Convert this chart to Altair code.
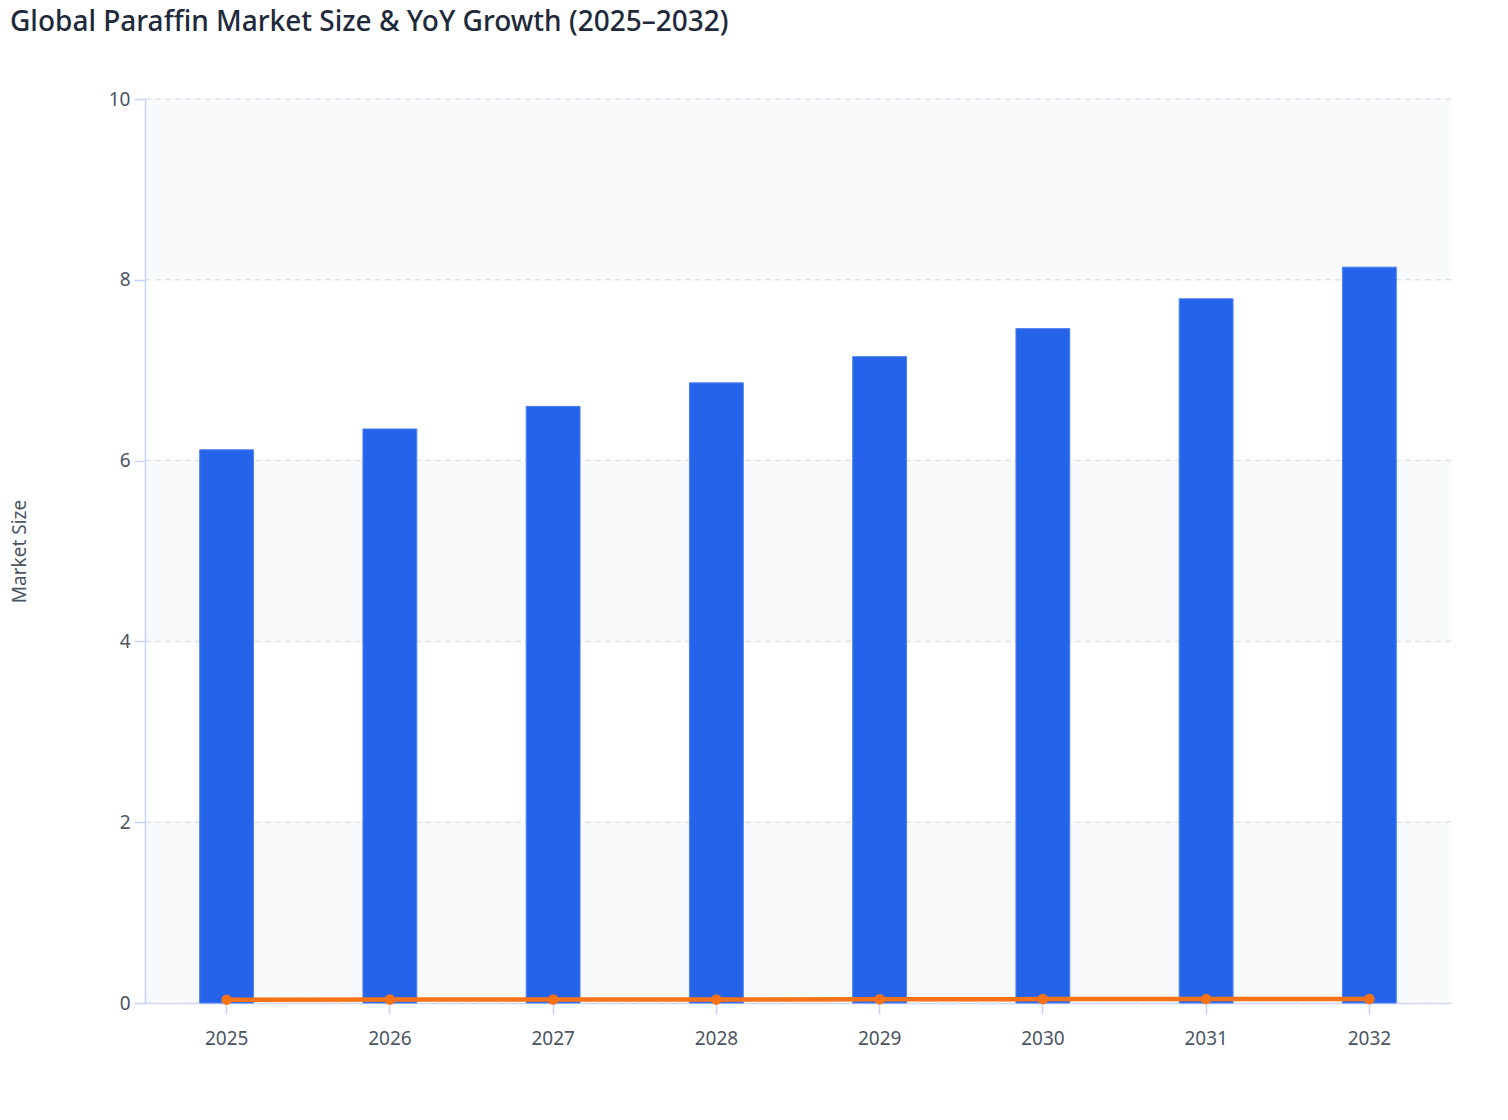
import altair as alt
import pandas as pd

years = ["2025", "2026", "2027", "2028", "2029", "2030", "2031", "2032"]
market_size = [6.12, 6.35, 6.60, 6.86, 7.15, 7.46, 7.79, 8.14]
yoy_growth = [0.037, 0.038, 0.039, 0.039, 0.042, 0.043, 0.044, 0.045]

band_lo = [0, 4, 8]
band_hi = [2, 6, 10]
y_ticks = [0, 2, 4, 6, 8, 10]

df = pd.DataFrame({"year": years, "size": market_size, "growth": yoy_growth})
bands = pd.DataFrame({"lo": band_lo, "hi": band_hi})
grid = pd.DataFrame({"tick": y_ticks})

FONT = "Noto Sans"
W, H = 1306, 904

x_enc = alt.X(
    "year:N",
    title=None,
    scale=alt.Scale(paddingInner=0.67, paddingOuter=0.335),
    axis=alt.Axis(labelAngle=0, labelPadding=15, tickSize=11, grid=False),
)
y_scale = alt.Scale(domain=[0, 10])
y_axis = alt.Axis(
    values=y_ticks, format="d", labelPadding=4, tickSize=11, grid=False, zindex=1,
    titleAngle=-90, titleX=-116, titleY=H / 2, titleBaseline="bottom", titleAlign="center",
)

background = alt.Chart(bands).mark_rect(color="#f8fafc").encode(
    y=alt.Y("lo:Q", scale=y_scale, title="Market Size", axis=y_axis),
    y2="hi:Q",
)

gridlines = alt.Chart(grid).mark_rule(color="#dfe3e9", strokeWidth=1.5, strokeDash=[6, 4]).encode(
    y=alt.Y("tick:Q", scale=y_scale, title="Market Size", axis=y_axis),
)

bars = alt.Chart(df).mark_bar(color="#2563eb", stroke="#4f83f0", strokeWidth=1).encode(
    x=x_enc,
    y=alt.Y("size:Q", title="Market Size", scale=y_scale, axis=y_axis),
    tooltip=["year:N", "size:Q"],
)

line = alt.Chart(df).mark_line(
    color="#f97316", strokeWidth=4.5, point=alt.OverlayMarkDef(color="#f97316", size=110, filled=True, opacity=1)
).encode(
    x=x_enc,
    y=alt.Y("growth:Q", title="Market Size", scale=y_scale, axis=y_axis),
    tooltip=["year:N", alt.Tooltip("growth:Q", format=".1%")],
)

chart = (
    alt.layer(background, gridlines, bars, line)
    .properties(
        width=W,
        height=H,
        padding={"left": 137, "top": 91, "right": 49, "bottom": 60},
        autosize=alt.AutoSizeParams(type="none"),
        title=alt.TitleParams(
            "Global Paraffin Market Size & YoY Growth (2025\u20132032)",
            anchor="start", frame="group", dx=-135, offset=53,
            fontSize=28, font=FONT, fontWeight=500, color="#1e293b",
        ),
    )
    .configure(font=FONT)
    .configure_axis(
        labelFontSize=19, labelColor="#4b5563", labelFont=FONT,
        tickColor="#c7d2fe", domainColor="#c7d2fe", domainWidth=1.5, tickWidth=1.5,
        titleFontSize=19, titleFontWeight="normal", titleColor="#4b5563", titleFont=FONT,
    )
    .configure_view(strokeWidth=0)
)

chart.save("out.html", embed_options={"renderer": "svg", "actions": False})
